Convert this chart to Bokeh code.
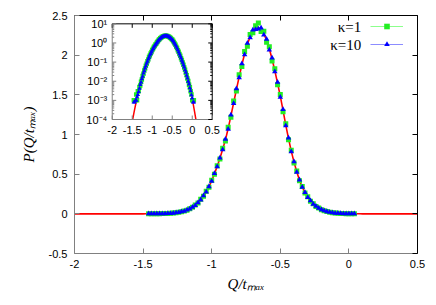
import math
from bokeh.plotting import figure
from bokeh.models import (Range1d, LinearAxis, FixedTicker, Legend, LegendItem, Label,
                          CustomJSTickFormatter, CoordinateMapping, LinearScale, LogScale,
                          BoxAnnotation)
from bokeh.core.properties import value
from bokeh.embed import file_html
from bokeh.resources import INLINE

# ---------------- data ----------------
x_data = [-1.46, -1.44, -1.42, -1.40, -1.38, -1.36, -1.34, -1.32, -1.30, -1.28,
          -1.26, -1.24, -1.22, -1.20, -1.18, -1.16, -1.14, -1.12, -1.10, -1.08,
          -1.06, -1.04, -1.02, -1.00, -0.98, -0.96, -0.94, -0.92, -0.90, -0.88,
          -0.86, -0.84, -0.82, -0.80, -0.78, -0.76, -0.74, -0.72, -0.70, -0.68,
          -0.66, -0.64, -0.62, -0.60, -0.58, -0.56, -0.54, -0.52, -0.50, -0.48,
          -0.46, -0.44, -0.42, -0.40, -0.38, -0.36, -0.34, -0.32, -0.30, -0.28,
          -0.26, -0.24, -0.22, -0.20, -0.18, -0.16, -0.14, -0.12, -0.10, -0.08,
          -0.06, -0.04, -0.02, 0.00, 0.02, 0.04]

kappa1_p = [0.0010, 0.0010, 0.0010, 0.0020, 0.0010, 0.0030, 0.0030, 0.0050, 0.0060, 0.0095,
            0.0125, 0.0190, 0.0248, 0.0362, 0.0465, 0.0640, 0.0815, 0.110, 0.137, 0.183,
            0.221, 0.284, 0.334, 0.424, 0.498, 0.607, 0.690, 0.826, 0.918, 1.092,
            1.218, 1.423, 1.547, 1.752, 1.858, 2.046, 2.112, 2.262, 2.281, 2.372,
            2.405, 2.298, 2.300, 2.163, 2.106, 1.928, 1.829, 1.626, 1.503, 1.287,
            1.135, 0.934, 0.803, 0.641, 0.539, 0.417, 0.345, 0.262, 0.214, 0.160,
            0.127, 0.0940, 0.0731, 0.0526, 0.0399, 0.0279, 0.0207, 0.0140, 0.0102, 0.0066,
            0.0048, 0.0030, 0.0020, 0.0010, 0.0010, 0.0010]

kappa10_p = [0.0008, 0.0008, 0.0010, 0.0010, 0.0015, 0.0020, 0.0028, 0.0042, 0.0066, 0.0088,
             0.0133, 0.0180, 0.0260, 0.0345, 0.0480, 0.0620, 0.0838, 0.107, 0.142, 0.177,
             0.228, 0.276, 0.344, 0.413, 0.509, 0.594, 0.706, 0.808, 0.940, 1.068,
             1.246, 1.391, 1.578, 1.716, 1.892, 2.005, 2.151, 2.220, 2.318, 2.326,
             2.331, 2.342, 2.255, 2.203, 2.066, 1.964, 1.793, 1.659, 1.472, 1.315,
             1.110, 0.956, 0.784, 0.658, 0.525, 0.429, 0.335, 0.270, 0.207, 0.165,
             0.123, 0.0966, 0.0710, 0.0541, 0.0387, 0.0288, 0.0200, 0.0145, 0.0098, 0.0070,
             0.0045, 0.0031, 0.0019, 0.0013, 0.0008, 0.0008]

theory_x = [-2.0,
            -1.60, -1.58, -1.56, -1.54, -1.52, -1.50, -1.48,
            -1.46, -1.44, -1.42, -1.40, -1.38, -1.36, -1.34, -1.32, -1.30, -1.28,
            -1.26, -1.24, -1.22, -1.20, -1.18, -1.16, -1.14, -1.12, -1.10, -1.08,
            -1.06, -1.04, -1.02, -1.00, -0.98, -0.96, -0.94, -0.92, -0.90, -0.88,
            -0.86, -0.84, -0.82, -0.80, -0.78, -0.76, -0.74, -0.72, -0.70, -0.68,
            -0.66, -0.64, -0.62, -0.60, -0.58, -0.56, -0.54, -0.52, -0.50, -0.48,
            -0.46, -0.44, -0.42, -0.40, -0.38, -0.36, -0.34, -0.32, -0.30, -0.28,
            -0.26, -0.24, -0.22, -0.20, -0.18, -0.16, -0.14, -0.12, -0.10, -0.08,
            -0.06, -0.04, -0.02, 0.00, 0.02, 0.04, 0.06, 0.08, 0.10, 0.12, 0.14,
            0.5]

theory_p = [1e-9,
            4.8e-6, 8.7e-6, 1.5e-5, 2.6e-5, 4.5e-5, 7.7e-5, 1.27e-4,
            2.1e-4, 3.4e-4, 5.4e-4, 8.4e-4, 0.0013, 0.0019, 0.0030, 0.0044, 0.0064, 0.0090,
            0.0130, 0.0183, 0.0255, 0.0350, 0.0472, 0.0627, 0.0829, 0.108, 0.140, 0.179,
            0.225, 0.279, 0.340, 0.417, 0.505, 0.598, 0.700, 0.813, 0.932, 1.075,
            1.235, 1.400, 1.566, 1.727, 1.879, 2.018, 2.137, 2.233, 2.302, 2.341,
            2.349, 2.325, 2.271, 2.188, 2.080, 1.951, 1.805, 1.647, 1.483, 1.304,
            1.119, 0.948, 0.791, 0.652, 0.530, 0.424, 0.339, 0.267, 0.210, 0.163,
            0.125, 0.0955, 0.0719, 0.0535, 0.0392, 0.0284, 0.0203, 0.0143, 0.0100, 0.0068,
            0.0046, 0.0030, 0.0020, 0.0012, 7.2e-4, 4.2e-4, 2.4e-4, 1.39e-4, 7.7e-5, 4.3e-5, 2.3e-5,
            1e-9]

series_labels = ["\u03ba=1", "\u03ba=10"]
x_title = "Q/t\u2098\u2090\u2093"
y_title = "P(Q/t\u2098\u2090\u2093)"
main_x_ticks = [-2, -1.5, -1, -0.5, 0, 0.5]
main_y_ticks = [-0.5, 0, 0.5, 1, 1.5, 2, 2.5]
inset_x_ticks = [-2, -1.5, -1, -0.5, 0, 0.5]
inset_x_labels = ["-2", "-1.5", "-1", "-0.5", "0", "0.5"]
inset_y_ticks = [1e-4, 1e-3, 1e-2, 1e-1, 1e0, 1e1]
inset_y_labels = ["10\u207b\u2074", "10\u207b\u00b3", "10\u207b\u00b2", "10\u207b\u00b9",
                  "10\u2070", "10\u00b9"]

# ---------------- styles ----------------
SANS = "Liberation Sans"
SERIF = "Liberation Serif"
RED = "#ff0000"
GREEN = "#22ee22"
GREEN_BAR = "#8cff8c"
BLUE = "#0000ff"
BLUE_BAR = "#8c8cff"
GREY = "#808080"
XERR = 0.009  # half bin width (horizontal error bar)

num_fmt = CustomJSTickFormatter(code="return (Math.round(tick*10)/10).toString();")
blank_fmt = CustomJSTickFormatter(code="return '';")


def style_axis(ax, color, labels=True, size="11px", standoff=6, tick_in=5):
    ax.axis_line_color = color
    ax.major_tick_line_color = color
    ax.major_tick_in = tick_in
    ax.major_tick_out = 0
    ax.minor_tick_line_color = None
    if labels:
        ax.major_label_text_font = SANS
        ax.major_label_text_font_size = size
        ax.major_label_text_color = "black"
        ax.major_label_standoff = standoff
    else:
        ax.formatter = blank_fmt
        ax.major_label_text_font_size = "0px"
        ax.major_label_standoff = 0


def style_title(ax, standoff):
    ax.axis_label_text_font = SERIF
    ax.axis_label_text_font_style = "italic"
    ax.axis_label_text_font_size = "15px"
    ax.axis_label_text_color = "black"
    ax.axis_label_standoff = standoff


# ---------------- main plot ----------------
p = figure(frame_width=343, frame_height=238,
           min_border_left=74, min_border_right=19, min_border_top=15, min_border_bottom=52,
           x_range=Range1d(-2, 0.5), y_range=Range1d(-0.5, 2.5),
           output_backend="svg", toolbar_location=None)
p.outline_line_color = None
p.xgrid.visible = False
p.ygrid.visible = False
p.background_fill_color = "white"
p.border_fill_color = "white"

p.xaxis.ticker = FixedTicker(ticks=main_x_ticks)
p.xaxis.formatter = num_fmt
style_axis(p.xaxis[0], GREY, standoff=6)
p.xaxis.axis_label = x_title
style_title(p.xaxis[0], 5)
p.yaxis.ticker = FixedTicker(ticks=main_y_ticks)
p.yaxis.formatter = num_fmt
style_axis(p.yaxis[0], GREY, standoff=7)
p.yaxis.axis_label = y_title
style_title(p.yaxis[0], 9)

top_ax = LinearAxis(ticker=FixedTicker(ticks=main_x_ticks))
style_axis(top_ax, "black", labels=False)
p.add_layout(top_ax, "above")
right_ax = LinearAxis(ticker=FixedTicker(ticks=main_y_ticks))
style_axis(right_ax, "black", labels=False)
p.add_layout(right_ax, "right")

p.line(theory_x, theory_p, line_color=RED, line_width=1.6)

x_lo = [v - XERR for v in x_data]
x_hi = [v + XERR for v in x_data]
bar1 = p.segment(x0=x_lo, y0=kappa1_p, x1=x_hi, y1=kappa1_p, line_color=GREEN_BAR, line_width=1)
pts1 = p.scatter(x_data, kappa1_p, marker="square", size=5, fill_color=GREEN, line_color=None)
bar2 = p.segment(x0=x_lo, y0=kappa10_p, x1=x_hi, y1=kappa10_p, line_color=BLUE_BAR, line_width=1)
pts2 = p.scatter(x_data, kappa10_p, marker="triangle", size=5.5, fill_color=BLUE, line_color=None)

legend = Legend(items=[LegendItem(label=" ", renderers=[bar1, pts1]),
                       LegendItem(label=" ", renderers=[bar2, pts2])],
                location=(296, 202), glyph_width=33, glyph_height=14, label_height=14,
                spacing=4, padding=0, margin=0, label_standoff=0, label_width=0,
                label_text_font_size="1px", background_fill_alpha=0, border_line_color=None)
p.add_layout(legend)

# legend texts (gnuplot style: text to the left of the sample)
for lab, ypos in zip(series_labels, [2.361, 2.131]):
    p.add_layout(Label(x=0.09, y=ypos, text=lab, text_font=SERIF, text_font_size="15px",
                       text_align="right", text_baseline="middle", text_color="black"))

# ---------------- inset (sub-coordinates inside the main frame) ----------------
ix = Range1d(-2, 0.5)
iy = Range1d(1e-4, 10)
# where the inset frame sits, in main-plot data units
IN_L, IN_R, IN_B, IN_T = -1.725, -0.996, 1.189, 2.395
cm = CoordinateMapping(x_source=ix, y_source=iy, x_scale=LinearScale(), y_scale=LogScale(),
                       x_target=Range1d(IN_L, IN_R), y_target=Range1d(IN_B, IN_T))


def sub(r):
    r.coordinates = cm
    return r


p.add_layout(BoxAnnotation(left=IN_L, right=IN_R, bottom=IN_B, top=IN_T, fill_color="white",
                           fill_alpha=1.0, line_color=None, level="underlay"))

sub(p.line(theory_x[1:-1], theory_p[1:-1], line_color=RED, line_width=1.5))
sub(p.scatter(x_data, kappa1_p, marker="square", size=4.5, fill_color=GREEN, line_color=None))
sub(p.scatter(x_data, kappa10_p, marker="triangle", size=4.5, fill_color=BLUE, line_color=None))
# white mask below the inset frame (hides the theory tail under 1e-4)
sub(p.quad(left=[ix.start], right=[ix.end], top=[iy.start], bottom=[iy.start / 100.0],
           fill_color="white", line_color=None))

# inset frame
sub(p.segment(x0=[ix.start, ix.start, ix.start, ix.end], y0=[iy.start, iy.start, iy.end, iy.start],
              x1=[ix.start, ix.end, ix.end, ix.end], y1=[iy.end, iy.start, iy.end, iy.end],
              line_color=[GREY, GREY, "black", "black"], line_width=1))

# inset ticks
nx = len(inset_x_ticks)
ny = len(inset_y_ticks)
minor_y = [m * t for t in inset_y_ticks[:-1] for m in range(2, 10)]
nm = len(minor_y)
sub(p.ray(x=inset_x_ticks, y=[iy.start] * nx, length=4, length_units="screen",
          angle=math.pi / 2, line_color=GREY))
sub(p.ray(x=inset_x_ticks, y=[iy.end] * nx, length=4, length_units="screen",
          angle=-math.pi / 2, line_color="black"))
sub(p.ray(x=[ix.start] * ny, y=inset_y_ticks, length=4, length_units="screen",
          angle=0.0, line_color=GREY))
sub(p.ray(x=[ix.end] * ny, y=inset_y_ticks, length=4, length_units="screen",
          angle=math.pi, line_color="black"))
sub(p.ray(x=[ix.start] * nm, y=minor_y, length=2, length_units="screen",
          angle=0.0, line_color=GREY))
sub(p.ray(x=[ix.end] * nm, y=minor_y, length=2, length_units="screen",
          angle=math.pi, line_color="black"))

# inset tick labels
sub(p.text(x=inset_x_ticks, y=[iy.start] * nx, text=inset_x_labels, text_align="center",
           text_baseline="top", y_offset=6, text_font=value(SANS), text_font_size="11px",
           text_color="black"))
sub(p.text(x=[ix.start] * ny, y=inset_y_ticks, text=inset_y_labels, text_align="right",
           text_baseline="middle", x_offset=-5, text_font=value(SANS), text_font_size="11px",
           text_color="black"))

open("out.html", "w").write(file_html(p, INLINE))
